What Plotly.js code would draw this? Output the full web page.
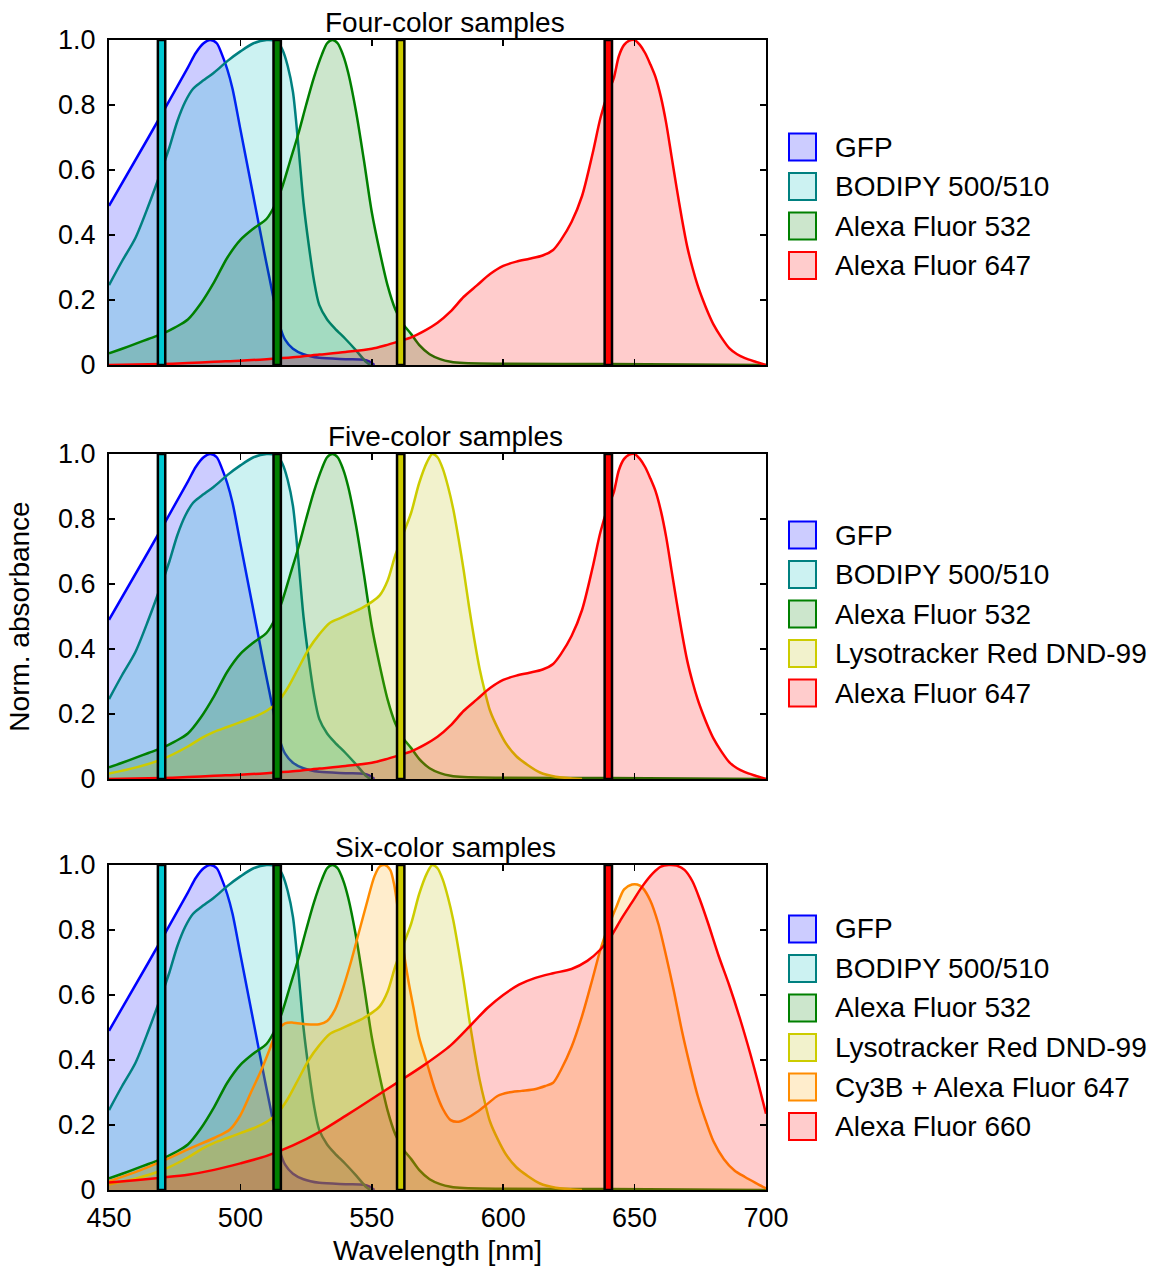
<!DOCTYPE html>
<html>
<head>
<meta charset="utf-8">
<script src="https://cdn.plot.ly/plotly-3.0.1.min.js"></script>
<style>html,body{margin:0;padding:0;background:#fff;}#chart{width:1158px;height:1267px;}</style>
</head>
<body>
<div id="chart"></div>
<script>
// ---------------- DATA ----------------
const wavelengthTicks = [450, 500, 550, 600, 650, 700];
const absTicks = [0, 0.2, 0.4, 0.6, 0.8, 1.0];
const absTickText = ['0', '0.2', '0.4', '0.6', '0.8', '1.0'];

const panelTitles = ['Four-color samples', 'Five-color samples', 'Six-color samples'];
const panelDyes = [
  ['GFP', 'BODIPY 500/510', 'Alexa Fluor 532', 'Alexa Fluor 647'],
  ['GFP', 'BODIPY 500/510', 'Alexa Fluor 532', 'Lysotracker Red DND-99', 'Alexa Fluor 647'],
  ['GFP', 'BODIPY 500/510', 'Alexa Fluor 532', 'Lysotracker Red DND-99', 'Cy3B + Alexa Fluor 647', 'Alexa Fluor 660']
];
const laserWl = [470, 514, 561, 640];

const gfpWl  = [450,465,480,483,486,488.5,491,493,495,497,500,503,506,509,511,513,515,517,520,524,530,540,547,549,551];
const gfpAbs = [0.49,0.70,0.915,0.96,0.99,1.0,0.99,0.955,0.91,0.85,0.725,0.60,0.475,0.35,0.27,0.19,0.12,0.078,0.05,0.033,0.022,0.018,0.016,0.011,0];

const bodipyWl  = [450,455,460,465,470,473,476,479,482,485,490,495,500,505,510,514,516,518,520,522,524,526,528,530,533,536,540,544,548,549.5];
const bodipyAbs = [0.246,0.32,0.39,0.49,0.60,0.67,0.75,0.81,0.85,0.87,0.90,0.935,0.965,0.99,1.0,0.995,0.97,0.92,0.84,0.68,0.50,0.37,0.26,0.185,0.14,0.112,0.08,0.045,0.008,0];

const af532Wl  = [450,455,460,465,470,475,480,485,490,495,500,505,510,513,516,519,522,525,528,531,533,535,537,539,541,544,547,550,553,556,559,562,565,568,572,576,580,585,600,640,700];
const af532Abs = [0.036,0.05,0.065,0.08,0.095,0.115,0.14,0.19,0.255,0.33,0.385,0.42,0.45,0.49,0.55,0.63,0.71,0.80,0.885,0.955,0.99,1.0,0.99,0.955,0.90,0.78,0.63,0.47,0.35,0.245,0.17,0.125,0.095,0.062,0.033,0.018,0.01,0.006,0.004,0.003,0];

const af647Wl  = [450,470,480,490,500,510,520,530,540,550,555,560,565,570,575,580,585,590,595,600,605,610,615,619,622,626,630,634,637,640,642,644,646,648,650,652,654,656,658,660,662,664,666,668,670,672,674,676,678,680,683,686,689,692,696,700];
const af647Abs = [0,0.003,0.006,0.01,0.013,0.018,0.024,0.032,0.04,0.05,0.06,0.072,0.085,0.105,0.13,0.165,0.21,0.245,0.28,0.305,0.318,0.327,0.337,0.354,0.385,0.44,0.52,0.65,0.76,0.84,0.88,0.95,0.985,0.998,1.0,0.985,0.96,0.925,0.885,0.825,0.745,0.645,0.545,0.45,0.365,0.30,0.245,0.20,0.16,0.125,0.085,0.052,0.033,0.021,0.01,0];

const lysoWl  = [450,460,470,480,485,490,495,500,505,510,514,518,522,526,530,534,538,542,546,550,553,556,559,562,565,568,571,573,575,577,579,581,583,585,587,589,591,593,595,598,601,605,609,614,620,630];
const lysoAbs = [0.017,0.035,0.06,0.10,0.125,0.145,0.16,0.175,0.19,0.21,0.235,0.28,0.34,0.40,0.445,0.48,0.495,0.51,0.525,0.545,0.565,0.61,0.69,0.755,0.82,0.91,0.975,1.0,0.99,0.955,0.90,0.83,0.74,0.64,0.53,0.43,0.34,0.27,0.21,0.155,0.11,0.07,0.045,0.02,0.007,0];

const cy3bWl  = [450,460,470,480,490,496,500,504,508,511,514,517,520,525,530,533,536,539,542,545,548,551,553,555,557,558.5,560,562,564,566,568,571,574,577,580,583,586,590,594,598,602,607,612,616,619,622,626,630,634,637,640,643,646,649,651,653,656,659,662,665,668,671,674,677,680,684,688,692,696,700];
const cy3bAbs = [0.027,0.055,0.088,0.125,0.16,0.186,0.23,0.30,0.37,0.43,0.49,0.513,0.515,0.51,0.51,0.52,0.555,0.62,0.70,0.79,0.88,0.965,0.995,1.0,0.985,0.94,0.86,0.74,0.64,0.555,0.47,0.39,0.31,0.25,0.215,0.21,0.22,0.24,0.265,0.29,0.30,0.305,0.31,0.32,0.33,0.37,0.44,0.535,0.65,0.74,0.81,0.87,0.925,0.94,0.94,0.93,0.89,0.82,0.72,0.61,0.49,0.385,0.29,0.215,0.15,0.095,0.06,0.04,0.022,0.005];

const af660Wl  = [450,460,470,480,490,500,510,520,530,540,550,560,570,580,588,594,600,606,612,619,626,632,637,641,645,649,653,657,660,663,666,669,672,675,678,682,686,690,694,697,700];
const af660Abs = [0.023,0.03,0.038,0.047,0.062,0.082,0.105,0.137,0.178,0.228,0.28,0.332,0.385,0.445,0.51,0.56,0.60,0.632,0.652,0.667,0.68,0.705,0.74,0.78,0.835,0.885,0.935,0.975,0.995,1.0,0.998,0.985,0.95,0.89,0.82,0.72,0.63,0.53,0.42,0.33,0.235];

// ---------------- STYLE ----------------
const dyeData = {
  'GFP': [gfpWl, gfpAbs],
  'BODIPY 500/510': [bodipyWl, bodipyAbs],
  'Alexa Fluor 532': [af532Wl, af532Abs],
  'Alexa Fluor 647': [af647Wl, af647Abs],
  'Lysotracker Red DND-99': [lysoWl, lysoAbs],
  'Cy3B + Alexa Fluor 647': [cy3bWl, cy3bAbs],
  'Alexa Fluor 660': [af660Wl, af660Abs]
};
const dyeStyle = {
  'GFP': {line: 'rgb(0,0,255)', fill: 'rgba(0,0,255,0.2)'},
  'BODIPY 500/510': {line: 'rgb(0,128,128)', fill: 'rgba(0,191,191,0.2)'},
  'Alexa Fluor 532': {line: 'rgb(0,128,0)', fill: 'rgba(0,128,0,0.2)'},
  'Alexa Fluor 647': {line: 'rgb(255,0,0)', fill: 'rgba(255,0,0,0.2)'},
  'Lysotracker Red DND-99': {line: 'rgb(204,204,0)', fill: 'rgba(191,191,0,0.2)'},
  'Cy3B + Alexa Fluor 647': {line: 'rgb(255,140,0)', fill: 'rgba(255,165,0,0.2)'},
  'Alexa Fluor 660': {line: 'rgb(255,0,0)', fill: 'rgba(255,0,0,0.2)'}
};
const laserColors = ['rgb(0,200,210)', 'rgb(0,128,0)', 'rgb(204,204,0)', 'rgb(255,0,0)'];

const FONT = '"Liberation Sans", Arial, Helvetica, sans-serif';
const W = 1158, H = 1267;
const L = 109, R = 766, T = 40, B = 1190;
const panelTop = [40, 454, 865];
const panelH = 325;
const legendRow0 = [147, 535, 929];
const legendStep = 39.5;

const px2x = p => (p - L) / (R - L);
const py2y = p => (B - p) / (B - T);

const traces = [];
const shapes = [];
const annotations = [];
const layout = {
  width: W, height: H,
  margin: {l: L, r: W - R, t: T, b: H - B, pad: 0},
  paper_bgcolor: '#fff', plot_bgcolor: '#fff',
  showlegend: false,
  font: {family: FONT, size: 27, color: '#000'}
};

panelTitles.forEach((title, i) => {
  const sfx = i === 0 ? '' : String(i + 1);
  const xa = 'x' + sfx, ya = 'y' + sfx;
  const top = panelTop[i];
  const yDomain = [py2y(top + panelH), py2y(top)];

  panelDyes[i].forEach(name => {
    const [wl, ab] = dyeData[name];
    traces.push({
      type: 'scatter', mode: 'lines', name: name,
      x: wl, y: ab, xaxis: xa, yaxis: ya,
      fill: 'tozeroy', fillcolor: dyeStyle[name].fill,
      line: {color: dyeStyle[name].line, width: 2.5, shape: 'spline', smoothing: 0.8},
      showlegend: false, hoverinfo: 'x+y+name'
    });
  });

  laserWl.forEach((w, k) => {
    shapes.push({
      type: 'rect', xref: xa, yref: ya, x0: w - 1.4, x1: w + 1.4, y0: 0, y1: 1,
      fillcolor: laserColors[k], line: {color: '#000', width: 2.5}, layer: 'above'
    });
  });

  layout['xaxis' + sfx] = {
    domain: [0, 1], anchor: ya, range: [450, 700],
    tickmode: 'array', tickvals: wavelengthTicks,
    ticks: 'inside', ticklen: 6, tickwidth: 1.5, tickcolor: '#000',
    showticklabels: i === 2, ticklabelstandoff: 3,
    tickfont: {family: FONT, size: 27, color: '#000'},
    showline: true, linecolor: '#000', linewidth: 2, mirror: 'ticks',
    showgrid: false, zeroline: false, fixedrange: true
  };
  layout['yaxis' + sfx] = {
    domain: yDomain, anchor: xa, range: [0, 1],
    tickmode: 'array', tickvals: absTicks, ticktext: absTickText,
    ticks: 'inside', ticklen: 6, tickwidth: 1.5, tickcolor: '#000',
    ticklabelstandoff: 6,
    tickfont: {family: FONT, size: 27, color: '#000'},
    showline: true, linecolor: '#000', linewidth: 2, mirror: 'ticks',
    showgrid: false, zeroline: false, fixedrange: true
  };

  annotations.push({
    xref: 'paper', yref: 'paper', x: px2x(445), y: py2y(top),
    xanchor: 'center', yanchor: 'bottom', yshift: 0, showarrow: false,
    text: title, font: {family: FONT, size: 28, color: '#000'}
  });

  panelDyes[i].forEach((name, j) => {
    const cy = legendRow0[i] + j * legendStep;
    shapes.push({
      type: 'rect', xref: 'paper', yref: 'paper',
      x0: px2x(789), x1: px2x(816), y0: py2y(cy + 13.5), y1: py2y(cy - 13.5),
      fillcolor: dyeStyle[name].fill, line: {color: dyeStyle[name].line, width: 2}
    });
    annotations.push({
      xref: 'paper', yref: 'paper', x: px2x(833), y: py2y(cy),
      xanchor: 'left', yanchor: 'middle', showarrow: false,
      text: name, font: {family: FONT, size: 28, color: '#000'}
    });
  });
});

layout.xaxis3.title = {text: 'Wavelength [nm]', font: {family: FONT, size: 28, color: '#000'}, standoff: 8};
layout.yaxis2.title = {text: 'Norm. absorbance', font: {family: FONT, size: 28, color: '#000'}, standoff: 20};
layout.shapes = shapes;
layout.annotations = annotations;

Plotly.newPlot('chart', traces, layout, {staticPlot: true, displayModeBar: false});
</script>
</body>
</html>
